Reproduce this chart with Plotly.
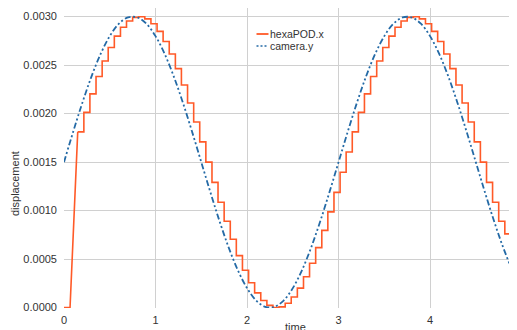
import plotly.graph_objects as go

# ---- data ----
camera_t = [0.0, 0.1, 0.2, 0.3, 0.4, 0.5, 0.6, 0.7, 0.8, 0.9,
            1.0, 1.1, 1.2, 1.3, 1.4, 1.5, 1.6, 1.7, 1.8, 1.9,
            2.0, 2.1, 2.2, 2.3, 2.4, 2.5, 2.6, 2.7, 2.8, 2.9,
            3.0, 3.1, 3.2, 3.3, 3.4, 3.5, 3.6, 3.7, 3.8, 3.9,
            4.0, 4.1, 4.2, 4.3, 4.4, 4.5, 4.6, 4.7, 4.8, 4.9, 5.0]
camera_y = [0.001500, 0.001812, 0.002110, 0.002382, 0.002615, 0.002799, 0.002927, 0.002992, 0.002992, 0.002927,
            0.002799, 0.002615, 0.002382, 0.002110, 0.001812, 0.001500, 0.001188, 0.000890, 0.000618, 0.000385,
            0.000201, 0.000073, 0.000008, 0.000008, 0.000073, 0.000201, 0.000385, 0.000618, 0.000890, 0.001188,
            0.001500, 0.001812, 0.002110, 0.002382, 0.002615, 0.002799, 0.002927, 0.002992, 0.002992, 0.002927,
            0.002799, 0.002615, 0.002382, 0.002110, 0.001812, 0.001500, 0.001188, 0.000890, 0.000618, 0.000385,
            0.000201]

# start-up ramp of hexaPOD.x
ramp_t = [0.0, 0.066, 0.150]
ramp_x = [0.0, 0.0, 0.001812]

# sample-and-hold steps of hexaPOD.x
step_t = [0.150, 0.217, 0.283, 0.350, 0.417, 0.483, 0.550, 0.617, 0.683, 0.750,
          0.817, 0.883, 0.950, 1.017, 1.083, 1.150, 1.217, 1.283, 1.350, 1.417,
          1.483, 1.550, 1.617, 1.683, 1.750, 1.817, 1.883, 1.950, 2.017, 2.083,
          2.150, 2.217, 2.283, 2.350, 2.417, 2.483, 2.550, 2.617, 2.683, 2.750,
          2.817, 2.883, 2.950, 3.017, 3.083, 3.150, 3.217, 3.283, 3.350, 3.417,
          3.483, 3.550, 3.617, 3.683, 3.750, 3.817, 3.883, 3.950, 4.017, 4.083,
          4.150, 4.217, 4.283, 4.350, 4.417, 4.483, 4.550, 4.617, 4.683, 4.750,
          4.817, 4.883, 4.945]
step_x = [0.001812, 0.002013, 0.002204, 0.002382, 0.002542, 0.002682, 0.002799, 0.002891, 0.002955, 0.002992,
          0.002999, 0.002977, 0.002927, 0.002848, 0.002744, 0.002615, 0.002464, 0.002295, 0.002110, 0.001913,
          0.001709, 0.001500, 0.001291, 0.001087, 0.000890, 0.000705, 0.000536, 0.000385, 0.000257, 0.000152,
          0.000073, 0.000023, 0.000001, 0.000008, 0.000045, 0.000109, 0.000201, 0.000318, 0.000458, 0.000618,
          0.000796, 0.000987, 0.001188, 0.001395, 0.001605, 0.001812, 0.002013, 0.002204, 0.002382, 0.002542,
          0.002682, 0.002799, 0.002891, 0.002955, 0.002992, 0.002999, 0.002977, 0.002927, 0.002848, 0.002744,
          0.002615, 0.002464, 0.002295, 0.002110, 0.001913, 0.001709, 0.001500, 0.001291, 0.001087, 0.000890,
          0.000760, 0.000500, 0.000380]

series_names = ["hexaPOD.x", "camera.y"]
x_ticks = [0, 1, 2, 3, 4]
y_ticks = [0.0, 0.0005, 0.0010, 0.0015, 0.0020, 0.0025, 0.0030]

RED = "#ff5a28"
BLUE = "#246aa6"
DASH = "6px,2.5px,2px,2.5px,2px,2.5px"
FONT = "Liberation Sans, Arial, sans-serif"

# page has an 8px body margin: the figure starts at (8, 8)
OX, OY = 8, 8
W, H = 517 - OX, 330 - OY
L, R, T, B = 64 - OX, 0, 8 - OY, 330 - 308
pw, ph = W - L - R, H - T - B

def px(page_x):
    return (page_x - OX - L) / pw

def py(page_y):
    return (H - B - (page_y - OY)) / ph

fig = go.Figure()
fig.add_trace(go.Scatter(x=ramp_t, y=ramp_x, mode="lines", name=series_names[0],
                         line=dict(color=RED, width=1.6), showlegend=False))
fig.add_trace(go.Scatter(x=step_t, y=step_x, mode="lines", name=series_names[0],
                         line=dict(color=RED, width=1.6, shape="hv"), showlegend=False))
fig.add_trace(go.Scatter(x=camera_t, y=camera_y, mode="lines", name=series_names[1],
                         line=dict(color=BLUE, width=1.8, dash=DASH, shape="spline", smoothing=1.0),
                         showlegend=False))

# custom compact legend
legend_items = [(series_names[0], RED, None, 34), (series_names[1], BLUE, "dot", 46)]
shapes = []
annotations = []
for name, col, dash, yy in legend_items:
    shapes.append(dict(type="line", xref="paper", yref="paper",
                       x0=px(256.5), x1=px(268.5), y0=py(yy), y1=py(yy),
                       line=dict(color=col, width=1.8 if dash is None else 1.6,
                                 dash="solid" if dash is None else "2px,2px")))
    annotations.append(dict(text=name, xref="paper", yref="paper", x=px(268), y=py(yy),
                            xanchor="left", yanchor="middle", showarrow=False,
                            font=dict(family=FONT, size=10.5, color="#333333")))

annotations.append(dict(text="displacement", xref="paper", yref="paper", x=px(15), y=py(184),
                        xanchor="center", yanchor="middle", textangle=-90, showarrow=False,
                        font=dict(family=FONT, size=11, color="#333333")))
annotations.append(dict(text="time", xref="paper", yref="paper", x=px(295), y=py(319),
                        xanchor="center", yanchor="top", showarrow=False,
                        font=dict(family=FONT, size=11, color="#333333")))

fig.update_layout(
    width=W, height=H,
    margin=dict(l=L, r=R, t=T, b=B, pad=0),
    paper_bgcolor="white", plot_bgcolor="white",
    font=dict(family=FONT, size=11, color="#333333"),
    shapes=shapes, annotations=annotations,
    showlegend=False,
)
fig.update_xaxes(range=[0, 4.95], tickvals=x_ticks, ticktext=[str(v) for v in x_ticks],
                 showgrid=True, gridcolor="#d0d0d0", gridwidth=1, zeroline=False,
                 showline=False, ticks="", ticklabelstandoff=4, automargin=False)
fig.update_yaxes(range=[-0.000004, 0.003089], tickvals=y_ticks,
                 ticktext=[f"{v:.4f}" for v in y_ticks],
                 showgrid=True, gridcolor="#d0d0d0", gridwidth=1, zeroline=False,
                 showline=False, ticks="", ticklabelstandoff=6, automargin=False)

fig.write_html("out.html")
